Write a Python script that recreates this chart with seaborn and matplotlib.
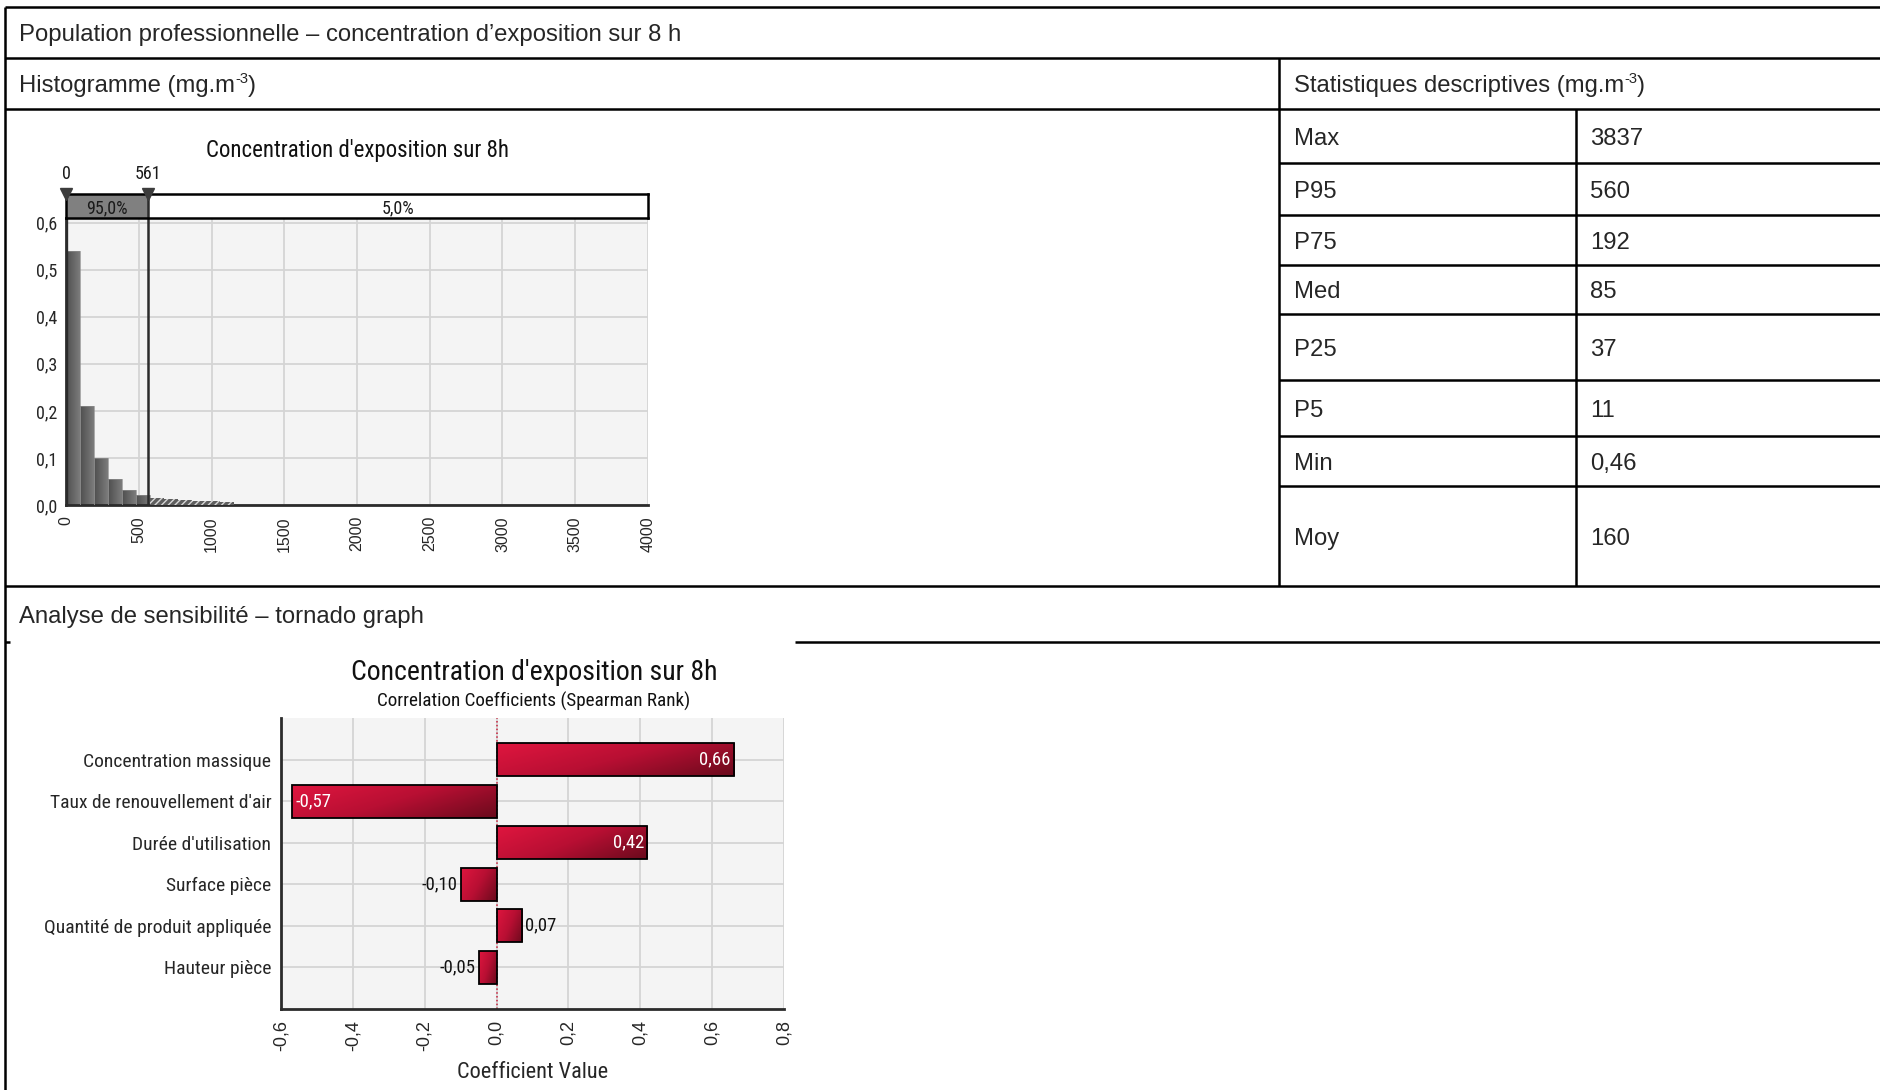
import logging
import numpy as np
import pandas as pd
import matplotlib
matplotlib.use("Agg")
import matplotlib.pyplot as plt
import seaborn as sns
from matplotlib import font_manager
from matplotlib.colors import LinearSegmentedColormap
from matplotlib.lines import Line2D
from matplotlib.ticker import FuncFormatter, FixedLocator

logging.getLogger("matplotlib.font_manager").setLevel(logging.ERROR)

# ---------------- content ----------------
section_title = "Population professionnelle – concentration d’exposition sur 8 h"
hist_header = ("Histogramme (mg.m", "-3", ")")
stats_header = ("Statistiques descriptives (mg.m", "-3", ")")
tornado_header = "Analyse de sensibilité – tornado graph"

stat_names = ["Max", "P95", "P75", "Med", "P25", "P5", "Min", "Moy"]
stat_values = ["3837", "560", "192", "85", "37", "11", "0,46", "160"]

hist_title = "Concentration d'exposition sur 8h"
hist_bin_start = 0.46
hist_bin_width = 95.9
hist_heights = [0.54, 0.21, 0.10, 0.055, 0.032, 0.021, 0.015, 0.013,
                0.010, 0.008, 0.008, 0.007]
hist_xticks = [0, 500, 1000, 1500, 2000, 2500, 3000, 3500, 4000]
hist_yticks = [0.0, 0.1, 0.2, 0.3, 0.4, 0.5, 0.6]
pct_bounds = [0, 561]
pct_labels = ["95,0%", "5,0%"]

tornado_title = "Concentration d'exposition sur 8h"
tornado_subtitle = "Correlation Coefficients (Spearman Rank)"
tornado_inputs = ["Concentration massique", "Taux de renouvellement d'air",
                  "Durée d'utilisation", "Surface pièce",
                  "Quantité de produit appliquée", "Hauteur pièce"]
tornado_coefs = [0.66, -0.57, 0.42, -0.10, 0.07, -0.05]
tornado_xticks = [-0.6, -0.4, -0.2, 0.0, 0.2, 0.4, 0.6, 0.8]
tornado_xlabel = "Coefficient Value"

# ---------------- style ----------------
sns.set_style("white")
available = {f.name for f in font_manager.fontManager.ttflist}
TABLE_FONT = ["Liberation Sans", "DejaVu Sans"]
CHART_FONT = [n for n in ["Roboto Condensed", "Liberation Sans Narrow",
                          "Open Sans Condensed"] if n in available] + ["DejaVu Sans"]
plt.rcParams["font.family"] = TABLE_FONT
plt.rcParams["hatch.linewidth"] = 1.0

W, H = 1881, 1090
fig = plt.figure(figsize=(W / 100, H / 100), dpi=100)
fig.patch.set_facecolor("white")


def fx(x):
    return x / W


def fy(y):
    return 1 - y / H


def rect(l, t, r, b):
    return [fx(l), fy(b), (r - l) / W, (b - t) / H]


def hline(y, x0, x1, lw=1.8):
    fig.add_artist(Line2D([fx(x0), fx(x1)], [fy(y), fy(y)], color="black",
                          lw=lw, transform=fig.transFigure, solid_capstyle="butt"))


def vline(x, y0, y1, lw=1.8):
    fig.add_artist(Line2D([fx(x), fx(x)], [fy(y0), fy(y1)], color="black",
                          lw=lw, transform=fig.transFigure, solid_capstyle="butt"))


def comma(v, nd):
    if abs(v) < 1e-12:
        v = 0.0
    return f"{v:.{nd}f}".replace(".", ",")


TFS = 17.2  # table text size (pt)


def cell_text(x, yc, s, size=TFS):
    return fig.text(fx(x), fy(yc + 0.36 * size * 100 / 72), s, ha="left",
                    va="baseline", fontsize=size, family=TABLE_FONT)


def cell_text_sup(x, yc, parts, size=TFS):
    base, sup, tail = parts
    r = fig.canvas.get_renderer()
    t1 = cell_text(x, yc, base, size)
    x1 = t1.get_window_extent(renderer=r).x1
    t2 = fig.text(x1 / W, fy(yc + 0.36 * size * 100 / 72 - 9), sup, ha="left",
                  va="baseline", fontsize=size * 0.62, family=TABLE_FONT)
    x2 = t2.get_window_extent(renderer=r).x1
    fig.text(x2 / W, fy(yc + 0.36 * size * 100 / 72), tail, ha="left",
             va="baseline", fontsize=size, family=TABLE_FONT)


def paint_gradient(ax, patch, colors, diagonal):
    x0, w = patch.get_x(), patch.get_width()
    y0, h = patch.get_y(), patch.get_height()
    xl, xr = min(x0, x0 + w), max(x0, x0 + w)
    yb, yt = min(y0, y0 + h), max(y0, y0 + h)
    t = np.linspace(0, 1, 120)
    if diagonal:
        g = 0.65 * t[None, :] + 0.35 * t[:, None]
    else:
        g = np.tile(t, (2, 1))
    cmap = LinearSegmentedColormap.from_list("grad", colors)
    extent = (xl, xr, yt, yb) if ax.yaxis_inverted() else (xl, xr, yb, yt)
    im = ax.imshow(g, cmap=cmap, extent=extent, origin="upper", aspect="auto",
                   interpolation="bilinear", zorder=2, vmin=0, vmax=1)
    im.set_clip_path(patch)
    patch.set_facecolor("none")
    patch.set_zorder(3)


# ---------------- table frame ----------------
X_LEFT, X_RIGHT = 5, W
X_SPLIT, X_VAL = 1279, 1576
Y_TOP, Y_ROW1, Y_ROW2, Y_ROW3, Y_ROW4 = 7, 58, 109, 586, 642
stat_rows = [109, 163, 215, 265, 314, 380, 436, 486, 586]

hline(Y_TOP, X_LEFT, X_RIGHT)
hline(Y_ROW1, X_LEFT, X_RIGHT)
hline(Y_ROW2, X_LEFT, X_RIGHT)
hline(Y_ROW3, X_LEFT, X_RIGHT)
hline(Y_ROW4, X_LEFT, 10)
hline(Y_ROW4, 795, X_RIGHT)
vline(X_LEFT, Y_TOP, H)
vline(X_SPLIT, Y_ROW1, Y_ROW3)
vline(X_VAL, Y_ROW2, Y_ROW3)
for yb in stat_rows[1:-1]:
    hline(yb, X_SPLIT, X_RIGHT)

cell_text(19, (Y_TOP + Y_ROW1) / 2, section_title)
cell_text_sup(19, (Y_ROW1 + Y_ROW2) / 2, hist_header)
cell_text_sup(1294, (Y_ROW1 + Y_ROW2) / 2, stats_header)
cell_text(19, (Y_ROW3 + Y_ROW4) / 2, tornado_header)
for i, (name, val) in enumerate(zip(stat_names, stat_values)):
    yc = (stat_rows[i] + stat_rows[i + 1]) / 2
    cell_text(1294, yc, name)
    cell_text(1590, yc, val)

# ---------------- histogram ----------------
BG = "#f4f4f4"
GRID = "#d4d4d4"
DARK = "#2b2b2b"

ax_h = fig.add_axes(rect(66, 218, 648, 505))
ax_h.set_facecolor(BG)
n_bins = len(hist_heights)
bin_mid = [hist_bin_start + (k + 0.5) * hist_bin_width for k in range(n_bins)]
hist_df = pd.DataFrame({"conc": bin_mid, "share": hist_heights})
sns.histplot(data=hist_df, x="conc", weights="share",
             binwidth=hist_bin_width,
             binrange=(hist_bin_start, hist_bin_start + n_bins * hist_bin_width),
             stat="count", ax=ax_h, color="#666666", edgecolor="#8c8c8c",
             linewidth=0.5, alpha=1)
for p in list(ax_h.patches):
    if p.get_height() <= 0:
        continue
    if p.get_x() >= pct_bounds[1]:
        p.set_facecolor("#5e5e5e")
        p.set_hatch("/////")
        p.set_edgecolor("#d8d8d8")
        p.set_linewidth(0)
        p.set_zorder(3)
    else:
        paint_gradient(ax_h, p, ["#4e4e4e", "#7c7c7c"], diagonal=False)
        p.set_edgecolor("#8c8c8c")

ax_h.set_xlim(0, 4000)
ax_h.set_ylim(0, 0.61)
ax_h.xaxis.set_major_locator(FixedLocator(hist_xticks))
ax_h.yaxis.set_major_locator(FixedLocator(hist_yticks))
ax_h.xaxis.set_major_formatter(FuncFormatter(lambda v, _: f"{int(v)}"))
ax_h.yaxis.set_major_formatter(FuncFormatter(lambda v, _: comma(v, 1)))
ax_h.grid(True, color=GRID, lw=1.3)
ax_h.set_axisbelow(True)
ax_h.set_xlabel("")
ax_h.set_ylabel("")
for s in ["top", "right"]:
    ax_h.spines[s].set_visible(False)
for s in ["left", "bottom"]:
    ax_h.spines[s].set_color(DARK)
    ax_h.spines[s].set_linewidth(2.0)
ax_h.tick_params(axis="x", length=5, width=1, color=DARK, rotation=90,
                 labelsize=11.5, pad=3)
ax_h.tick_params(axis="y", length=4, width=1, color=DARK, labelsize=13, pad=2)
for lab in ax_h.get_xticklabels():
    lab.set_family(TABLE_FONT)
for lab in ax_h.get_yticklabels():
    lab.set_family(CHART_FONT)
ax_h.axvline(pct_bounds[1], color=DARK, lw=1.8, zorder=4)
ax_h.axvline(pct_bounds[0], color=DARK, lw=2.4, zorder=4)

# percentile band above the histogram
ax_p = fig.add_axes(rect(66, 194, 648, 218))
ax_p.set_xlim(0, 4000)
ax_p.set_ylim(0, 1)
ax_p.axvspan(pct_bounds[0], pct_bounds[1], color="#808080", lw=0)
ax_p.axvspan(pct_bounds[1], 4000, color="white", lw=0)
ax_p.axvline(pct_bounds[1], color=DARK, lw=1.8)
for s in ax_p.spines.values():
    s.set_visible(True)
    s.set_color("black")
    s.set_linewidth(1.8)
ax_p.tick_params(left=False, bottom=False, labelleft=False, labelbottom=False)
ax_p.text(np.mean(pct_bounds), 0.42, pct_labels[0], ha="center", va="center",
          fontsize=13, family=CHART_FONT, color="#1a1a1a")
ax_p.text((pct_bounds[1] + 4000) / 2, 0.42, pct_labels[1], ha="center",
          va="center", fontsize=13, family=CHART_FONT, color="#1a1a1a")
ax_p.plot(pct_bounds, [1.0, 1.0], ls="none", marker="v", ms=9,
          color="#3c3c3c", clip_on=False, zorder=5)
for b in pct_bounds:
    ax_p.text(b, 1.45, f"{b}", ha="center", va="bottom", fontsize=13,
              family=CHART_FONT, color="#1a1a1a", clip_on=False)

fig.text(fx(357), fy(150), hist_title, ha="center", va="center", fontsize=16.5,
         family=CHART_FONT, color="#111111")

# ---------------- tornado ----------------
ax_t = fig.add_axes(rect(281, 718, 784, 1009))
ax_t.set_facecolor(BG)
df = pd.DataFrame({"input": tornado_inputs, "coef": tornado_coefs})
sns.barplot(data=df, x="coef", y="input", orient="h", ax=ax_t,
            color="#b01030", saturation=1, edgecolor="black", linewidth=1.3,
            width=0.8)
ax_t.set_ylim(len(tornado_inputs), -1)
for p in list(ax_t.patches):
    paint_gradient(ax_t, p, ["#e0163f", "#b80f33", "#6a0a1c"], diagonal=True)
ax_t.set_xlim(-0.6, 0.8)
ax_t.set_ylim(len(tornado_inputs), -1)
ax_t.xaxis.set_major_locator(FixedLocator(tornado_xticks))
ax_t.xaxis.set_major_formatter(FuncFormatter(lambda v, _: comma(v, 1)))
ax_t.grid(True, color=GRID, lw=1.3)
ax_t.set_axisbelow(True)
ax_t.axvline(0, color="#c8203c", lw=1.1, ls=(0, (1, 1.5)), zorder=1.5)
for s in ["top", "right"]:
    ax_t.spines[s].set_visible(False)
for s in ["left", "bottom"]:
    ax_t.spines[s].set_color(DARK)
    ax_t.spines[s].set_linewidth(2.0)
ax_t.tick_params(axis="x", length=5, width=1, color=DARK, rotation=90,
                 labelsize=13, pad=3)
ax_t.tick_params(axis="y", length=4, width=1, color=DARK, labelsize=14, pad=3)
for lab in ax_t.get_xticklabels():
    lab.set_family(TABLE_FONT)
for lab in ax_t.get_yticklabels():
    lab.set_family(CHART_FONT)
ax_t.set_ylabel("")
ax_t.set_xlabel(tornado_xlabel, fontsize=16, family=CHART_FONT, labelpad=8)

for i, v in enumerate(tornado_coefs):
    s = comma(v, 2)
    sign = 1 if v > 0 else -1
    if abs(v) > 0.3:
        ax_t.text(v - sign * 0.01, i, s, ha="right" if v > 0 else "left",
                  va="center", color="white", fontsize=13.5, family=CHART_FONT,
                  zorder=6)
    else:
        ax_t.text(v + sign * 0.008, i, s, ha="left" if v > 0 else "right",
                  va="center", color="#111111", fontsize=13.5,
                  family=CHART_FONT, zorder=6)

fig.text(fx(534), fy(672), tornado_title, ha="center", va="center",
         fontsize=20, family=CHART_FONT, color="#111111")
fig.text(fx(534), fy(701), tornado_subtitle, ha="center", va="center",
         fontsize=13.8, family=CHART_FONT, color="#111111")

fig.savefig("out.png", dpi=100, facecolor="white")
